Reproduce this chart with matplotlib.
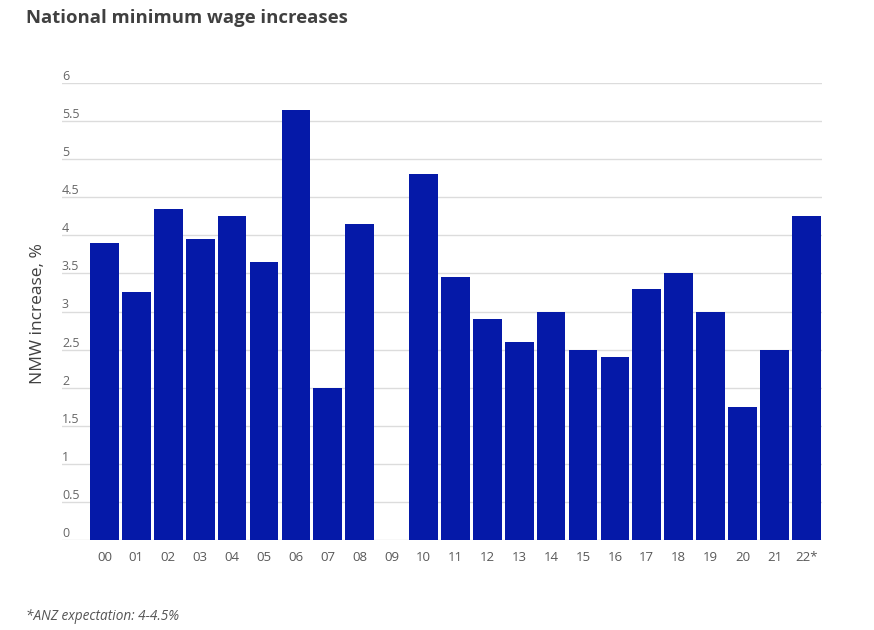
import matplotlib.pyplot as plt
import matplotlib.transforms as mtransforms

# data
years = ['00', '01', '02', '03', '04', '05', '06', '07', '08', '09', '10', '11',
         '12', '13', '14', '15', '16', '17', '18', '19', '20', '21', '22*']
increase = [3.9, 3.25, 4.35, 3.95, 4.25, 3.65, 5.65, 2.0, 4.15, 0.0, 4.8, 3.45,
            2.9, 2.6, 3.0, 2.5, 2.4, 3.3, 3.5, 3.0, 1.75, 2.5, 4.25]
yticks = [0, 0.5, 1, 1.5, 2, 2.5, 3, 3.5, 4, 4.5, 5, 5.5, 6]
ytick_labels = ['0', '0.5', '1', '1.5', '2', '2.5', '3', '3.5', '4', '4.5', '5', '5.5', '6']

plt.rcParams['font.family'] = ['Open Sans', 'DejaVu Sans']

fig = plt.figure(figsize=(8.74, 6.3), dpi=100)
ax = fig.add_axes([62 / 874, 1 - 540 / 630, 760 / 874, 457 / 630])

x = list(range(len(years)))
ax.bar(x, increase, width=0.9, color='#0519A8', zorder=3)

ax.set_xlim(-1.33, 22.49)
ax.set_ylim(0, 6)
for t in yticks:
    ax.axhline(t, color='#dcdcdc', lw=1, zorder=1)

# y labels sit above the gridlines, left aligned
trans = mtransforms.blended_transform_factory(ax.transAxes, ax.transData)
for t, lab in zip(yticks, ytick_labels):
    ax.text(0.0, t, lab, transform=trans, ha='left', va='bottom',
            fontsize=9, color='#666666')

ax.set_yticks([])
ax.set_xticks(x)
ax.set_xticklabels(years, fontsize=9.5, color='#595959')
ax.tick_params(axis='x', length=0, pad=8)
for s in ax.spines.values():
    s.set_visible(False)

fig.text(38 / 874, 1 - 314 / 630, 'NMW increase, %', rotation=90, ha='center',
         va='center', fontsize=12.5, color='#404040')
fig.text(26 / 874, 1 - 18 / 630, 'National minimum wage increases', ha='left',
         va='center', fontsize=13.3, fontweight='bold', color='#404040')
fig.text(26 / 874, 1 - 616 / 630, '*ANZ expectation: 4-4.5%', ha='left',
         va='center', fontsize=9.8, style='italic', color='#555555')

plt.savefig('out.png', dpi=100)
